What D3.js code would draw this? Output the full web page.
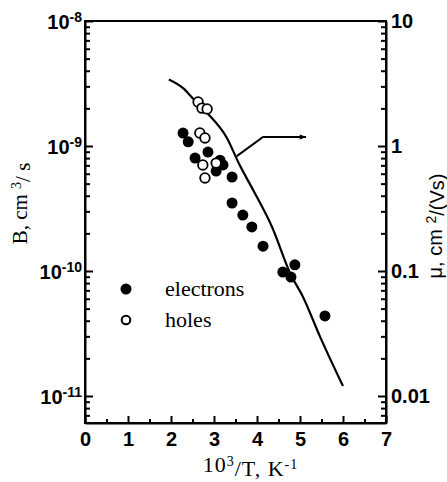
<!DOCTYPE html>
<html>
<head>
<meta charset="utf-8">
<script src="https://cdn.jsdelivr.net/npm/d3@7"></script>
<style>
    html, body { margin: 0; padding: 0; background: #fff; }
    svg { display: block; }
    .tick-label { font-family: "Liberation Sans", Arial, sans-serif; font-weight: bold; font-size: 20px; fill: #000; }
    .serif { font-family: "Liberation Serif", "Times New Roman", serif; fill: #000; }
</style>
</head>
<body>
<div id="chart"></div>
<script>
// --- data ---
const xTicks = [0, 1, 2, 3, 4, 5, 6, 7];
const bExponents = [-11, -10, -9, -8];          // left axis decades, B in cm^3/s
const muTicks = [0.01, 0.1, 1, 10];             // right axis, mu in cm^2/(Vs)
const muLabels = ["0.01", "0.1", "1", "10"];

// electrons (filled) - B vs 10^3/T
const electronX = [2.28, 2.40, 2.56, 2.86, 3.14, 3.21, 3.05, 3.42, 3.42, 3.67, 3.88, 4.14, 4.60, 4.79, 4.88, 5.58];
const electronB = [1.27e-9, 1.08e-9, 8.0e-10, 8.95e-10, 7.7e-10, 7.05e-10, 6.3e-10, 5.65e-10, 3.5e-10, 2.8e-10, 2.25e-10, 1.58e-10, 9.8e-11, 8.95e-11, 1.12e-10, 4.37e-11];

// holes (open) - B vs 10^3/T
const holeX = [2.63, 2.72, 2.84, 2.67, 2.79, 2.74, 3.05, 2.79];
const holeB = [2.25e-9, 2.01e-9, 1.98e-9, 1.27e-9, 1.16e-9, 7.05e-10, 7.3e-10, 5.55e-10];

// mobility curve - right axis
const curveX = [1.95, 2.28, 2.51, 2.84, 3.30, 3.60, 3.91, 4.35, 4.77, 5.07, 5.47, 6.0];
const curveMu = [3.4, 2.9, 2.4, 1.84, 1.16, 0.70, 0.445, 0.225, 0.096, 0.062, 0.0296, 0.012];

// arrow pointing from the curve to the right axis
const arrowX = [3.53, 4.14, 5.14];
const arrowMu = [0.83, 1.18, 1.18];

const width = 447, height = 482;
const margin = { top: 21, right: 61, bottom: 59, left: 85 };

const svg = d3.select("#chart").append("svg")
    .attr("width", width)
    .attr("height", height);

const x = d3.scaleLinear()
    .domain([0, 7])
    .range([margin.left, width - margin.right]);

// both log axes span the same 3.2 decades
const yB = d3.scaleLog()
    .domain([6.08e-12, 1e-8])
    .range([height - margin.bottom, margin.top]);

const yMu = d3.scaleLog()
    .domain([6.08e-3, 10])
    .range([height - margin.bottom, margin.top]);

const minorLog = (scale) => {
    const [lo, hi] = scale.domain();
    const vals = [];
    for (let e = Math.floor(Math.log10(lo)); e <= Math.ceil(Math.log10(hi)); e++) {
        for (let m = 2; m <= 9; m++) {
            const v = m * Math.pow(10, e);
            if (v >= lo && v <= hi) vals.push(v);
        }
    }
    return vals;
};

// --- left axis (B) ---
const leftAxis = svg.append("g")
    .attr("transform", `translate(${margin.left},0)`)
    .call(d3.axisLeft(yB)
        .tickValues(bExponents.map(e => Math.pow(10, e)))
        .tickSizeInner(-8).tickSizeOuter(0).tickPadding(3)
        .tickFormat(""));

leftAxis.selectAll(".tick text").each(function (d) {
    const t = d3.select(this).attr("class", "tick-label").attr("dy", "0.36em");
    t.append("tspan").text("10");
    t.append("tspan").attr("dy", "-0.45em").style("font-size", "14px")
        .text(Math.round(Math.log10(d)));
});

svg.append("g")
    .attr("transform", `translate(${margin.left},0)`)
    .call(d3.axisLeft(yB).tickValues(minorLog(yB)).tickSizeInner(-5).tickSizeOuter(0).tickFormat(""))
    .call(g => g.select(".domain").remove());

// --- right axis (mu) ---
svg.append("g")
    .attr("transform", `translate(${width - margin.right},0)`)
    .call(d3.axisRight(yMu)
        .tickValues(muTicks)
        .tickSizeInner(-8).tickSizeOuter(0).tickPadding(5)
        .tickFormat((d, i) => muLabels[i]))
    .call(g => g.selectAll(".tick text").attr("class", "tick-label"));

svg.append("g")
    .attr("transform", `translate(${width - margin.right},0)`)
    .call(d3.axisRight(yMu).tickValues(minorLog(yMu)).tickSizeInner(-5).tickSizeOuter(0).tickFormat(""))
    .call(g => g.select(".domain").remove());

// --- bottom axis ---
svg.append("g")
    .attr("transform", `translate(0,${height - margin.bottom})`)
    .call(d3.axisBottom(x)
        .tickValues(xTicks)
        .tickFormat(d3.format("d"))
        .tickSizeInner(-7).tickSizeOuter(0).tickPadding(9))
    .call(g => g.selectAll(".tick text").attr("class", "tick-label"));

svg.append("g")
    .attr("transform", `translate(0,${height - margin.bottom})`)
    .call(d3.axisBottom(x).tickValues(xTicks.slice(0, -1).map(v => v + 0.5)).tickSizeInner(-4).tickSizeOuter(0).tickFormat(""))
    .call(g => g.select(".domain").remove());

svg.selectAll(".domain, .tick line")
    .attr("stroke", "#000")
    .attr("stroke-width", 2);

// frame
svg.append("rect")
    .attr("x", margin.left)
    .attr("y", margin.top)
    .attr("width", width - margin.left - margin.right)
    .attr("height", height - margin.top - margin.bottom)
    .attr("fill", "none")
    .attr("stroke", "#000")
    .attr("stroke-width", 2);

// --- axis titles ---
const xTitle = svg.append("text")
    .attr("class", "serif")
    .attr("x", (margin.left + width - margin.right) / 2 + 15)
    .attr("y", height - 10)
    .attr("text-anchor", "middle")
    .style("font-size", "22px")
    .style("letter-spacing", "1px");
xTitle.append("tspan").text("10");
xTitle.append("tspan").attr("dy", "-0.45em").style("font-size", "14px").text("3");
xTitle.append("tspan").attr("dy", "0.45em").text("/T,  K");
xTitle.append("tspan").attr("dy", "-0.45em").style("font-size", "14px").text("-1");

const bTitle = svg.append("text")
    .attr("class", "serif")
    .attr("transform", `translate(27,${(160 + 247) / 2}) rotate(-90)`)
    .attr("text-anchor", "middle")
    .style("font-size", "21px");
bTitle.append("tspan").text("B, cm ");
bTitle.append("tspan").attr("dy", "-0.4em").style("font-size", "14px").text("3");
bTitle.append("tspan").attr("dy", "0.4em").text("/ s");

const muTitle = svg.append("text")
    .attr("class", "tick-label")
    .attr("transform", `translate(442,${(165 + 287) / 2}) rotate(-90)`)
    .attr("text-anchor", "middle")
    .style("font-weight", "normal")
    .style("font-size", "20px");
muTitle.append("tspan").text("\u03bc, cm ");
muTitle.append("tspan").attr("dy", "-0.4em").style("font-size", "14px").text("2");
muTitle.append("tspan").attr("dy", "0.4em").text("/(Vs)");

// --- mobility curve ---
const line = d3.line()
    .x(d => x(d[0]))
    .y(d => yMu(d[1]))
    .curve(d3.curveMonotoneX);

svg.append("path")
    .datum(d3.zip(curveX, curveMu))
    .attr("d", line)
    .attr("fill", "none")
    .attr("stroke", "#000")
    .attr("stroke-width", 2.2);

svg.append("defs").append("marker")
    .attr("id", "arrowhead")
    .attr("viewBox", "0 0 10 10")
    .attr("refX", 9).attr("refY", 5)
    .attr("markerWidth", 9).attr("markerHeight", 7)
    .attr("markerUnits", "userSpaceOnUse")
    .attr("orient", "auto")
    .append("path")
    .attr("d", "M0,1.5 L10,5 L0,8.5 Z")
    .attr("fill", "#000");

svg.append("path")
    .datum(d3.zip(arrowX, arrowMu))
    .attr("d", d3.line().x(d => x(d[0])).y(d => yMu(d[1])))
    .attr("fill", "none")
    .attr("stroke", "#000")
    .attr("stroke-width", 2)
    .attr("marker-end", "url(#arrowhead)");

// --- data points ---
svg.append("g").selectAll("circle")
    .data(d3.zip(electronX, electronB))
    .join("circle")
    .attr("cx", d => x(d[0]))
    .attr("cy", d => yB(d[1]))
    .attr("r", 5.5)
    .attr("fill", "#000");

svg.append("g").selectAll("circle")
    .data(d3.zip(holeX, holeB))
    .join("circle")
    .attr("cx", d => x(d[0]))
    .attr("cy", d => yB(d[1]))
    .attr("r", 4.8)
    .attr("fill", "#fff")
    .attr("stroke", "#000")
    .attr("stroke-width", 1.8);

// --- legend ---
const legend = svg.append("g").attr("transform", "translate(126,289)");
legend.append("circle").attr("r", 5.5).attr("fill", "#000");
legend.append("circle").attr("cy", 31).attr("r", 4.3)
    .attr("fill", "#fff").attr("stroke", "#000").attr("stroke-width", 2);
legend.append("text").attr("class", "serif").attr("x", 39).attr("y", 7)
    .style("font-size", "22px").text("electrons");
legend.append("text").attr("class", "serif").attr("x", 39).attr("y", 38)
    .style("font-size", "22px").text("holes");
</script>
</body>
</html>
